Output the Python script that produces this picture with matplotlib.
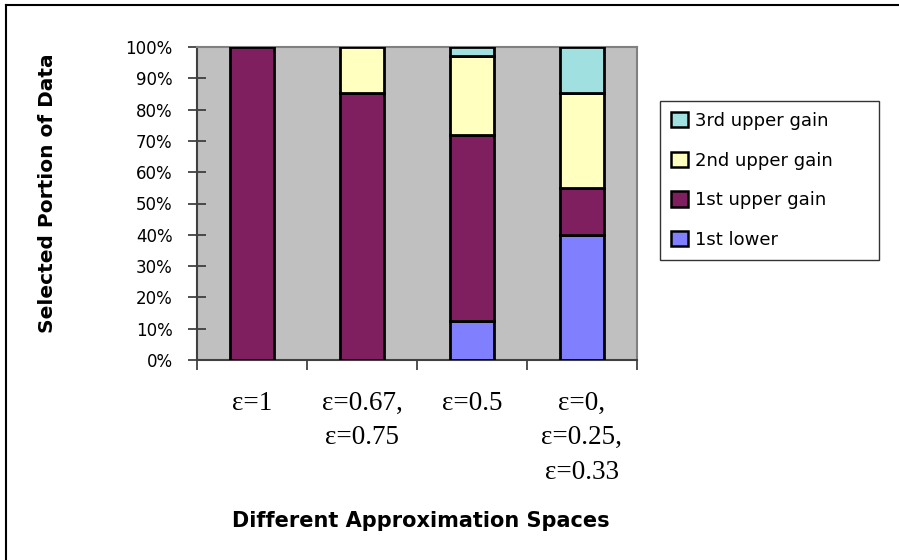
import matplotlib
matplotlib.use("Agg")
import matplotlib.pyplot as plt
from matplotlib.patches import Patch
from matplotlib.lines import Line2D
import numpy as np

# Category labels (approximation spaces)
categories = ["ε=1", "ε=0.67,\nε=0.75", "ε=0.5", "ε=0,\nε=0.25,\nε=0.33"]

# Portion of selected data per component (percent)
first_lower = [0.0, 0.0, 12.4, 39.8]
first_upper_gain = [100.0, 85.3, 59.5, 15.3]
second_upper_gain = [0.0, 14.7, 25.3, 30.2]
third_upper_gain = [0.0, 0.0, 2.8, 14.7]

series_names = ["1st lower", "1st upper gain", "2nd upper gain", "3rd upper gain"]
series_colors = ["#8080FF", "#7F1F5F", "#FFFFC0", "#A0E0E0"]

y_ticks = list(range(0, 101, 10))
y_tick_labels = [f"{v}%" for v in y_ticks]

W, H = 899, 560
fig = plt.figure(figsize=(W / 100, H / 100), dpi=100)
fig.patch.set_facecolor("white")

# Outer chart frame (top and left edges; the rest falls outside the canvas)
fx, fy = 6 / W, 1 - 5 / H
fig.add_artist(Line2D([fx, 1.0], [fy, fy], transform=fig.transFigure,
                      color="black", linewidth=1.5))
fig.add_artist(Line2D([fx, fx], [0.0, fy], transform=fig.transFigure,
                      color="black", linewidth=1.5))

ax = fig.add_axes([197 / W, (H - 360) / H, 440 / W, 313 / H])
ax.set_facecolor("#C0C0C0")

x = np.arange(1, len(categories) + 1)
bar_w = 0.4
bottom = np.zeros(len(categories))
series_vals = [first_lower, first_upper_gain, second_upper_gain, third_upper_gain]
handles = []
for name, vals, col in zip(series_names, series_vals, series_colors):
    vals = np.array(vals)
    mask = vals > 0
    ax.bar(x[mask], vals[mask], bar_w, bottom=bottom[mask], color=col,
           edgecolor="black", linewidth=2, zorder=3)
    bottom += vals
    handles.append(Patch(facecolor=col, edgecolor="black", linewidth=1.8, label=name))

ax.set_xlim(0.5, len(categories) + 0.5)
ax.set_ylim(0, 100)

# Tick marks at category boundaries, labels centered on categories
ax.set_xticks(np.arange(0.5, len(categories) + 1, 1.0))
ax.set_xticklabels([])
ax.set_xticks(x, minor=True)
ax.set_xticklabels(categories, minor=True, fontfamily="Liberation Serif",
                   fontsize=19.5, linespacing=1.5)
ax.tick_params(axis="x", which="major", direction="out", length=7, width=1.2, color="#333333")
ax.tick_params(axis="x", which="minor", length=0, pad=22)

ax.set_yticks(y_ticks)
ax.set_yticklabels(y_tick_labels, fontfamily="DejaVu Sans", fontsize=12)
ax.tick_params(axis="y", direction="inout", length=13, width=1.2, color="#333333", pad=11)

for s in ["top", "right"]:
    ax.spines[s].set_color("#808080")
    ax.spines[s].set_linewidth(1.5)
for s in ["left", "bottom"]:
    ax.spines[s].set_color("#404040")
    ax.spines[s].set_linewidth(1.5)

fig.text(48 / W, 1 - 193 / H, "Selected Portion of Data", rotation=90,
         ha="center", va="center", fontfamily="DejaVu Sans",
         fontweight="bold", fontsize=14.5)
fig.text(421 / W, 1 - 521 / H, "Different Approximation Spaces",
         ha="center", va="center", fontfamily="DejaVu Sans",
         fontweight="bold", fontsize=15)

leg = fig.legend(handles=handles[::-1], loc="upper left",
                 bbox_to_anchor=(660 / W, 1 - 101 / H, 219 / W, 0.0),
                 mode="expand",
                 prop={"family": "DejaVu Sans", "size": 13},
                 frameon=True, fancybox=False, shadow=False,
                 handlelength=0.95, handleheight=0.95, handletextpad=0.4,
                 labelspacing=1.2, borderpad=0.6, borderaxespad=0)
leg.get_frame().set_edgecolor("black")
leg.get_frame().set_linewidth(1.0)

fig.savefig("out.png", dpi=100, facecolor="white")
